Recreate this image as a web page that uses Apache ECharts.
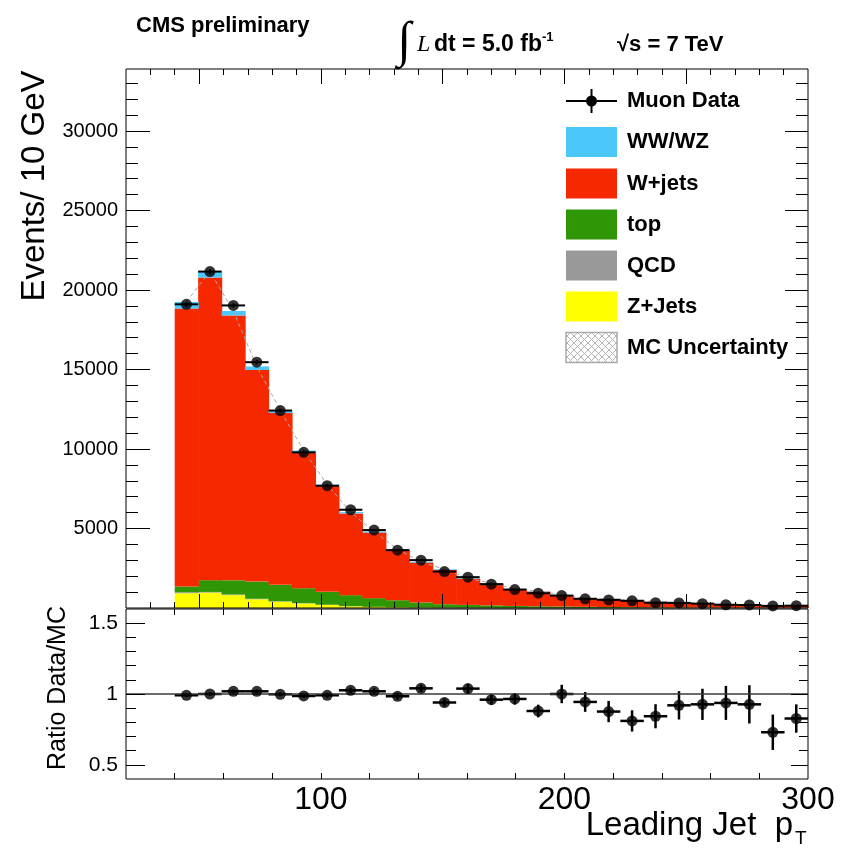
<!DOCTYPE html>
<html>
<head>
<meta charset="utf-8">
<script src="https://cdn.jsdelivr.net/npm/echarts@6/dist/echarts.min.js"></script>
<style>
  html, body { margin: 0; padding: 0; background: #ffffff; }
  #chart { width: 841px; height: 848px; }
</style>
</head>
<body>
<div id="chart"></div>
<script>
// Leading jet pT binning (GeV): 27 uniform bins between 40 and 300
const binEdges = [40, 49.63, 59.26, 68.89, 78.52, 88.15, 97.78, 107.41, 117.04, 126.67,
  136.30, 145.93, 155.56, 165.19, 174.81, 184.44, 194.07, 203.70, 213.33, 222.96,
  232.59, 242.22, 251.85, 261.48, 271.11, 280.74, 290.37, 300];

// Observed muon-channel events per bin
const muonData = [19100, 21160, 19030, 15460, 12420, 9790, 7690, 6180, 4900, 3640,
  3010, 2290, 1940, 1500, 1160, 930, 780, 580, 510, 450, 330, 320, 275, 205, 190, 130, 145];

// Simulated backgrounds per bin (stacked bottom to top: Z+Jets, QCD, top, W+jets, WW/WZ)
const zJets   = [930, 970, 810, 550, 400, 290, 195, 110, 70, 45, 30, 22, 16, 12, 9, 7, 5, 4, 3, 3, 2, 2, 1, 1, 1, 1, 1];
const qcd     = [60, 40, 40, 30, 20, 15, 10, 8, 5, 4, 3, 2, 2, 1, 1, 1, 1, 1, 0, 0, 0, 0, 0, 0, 0, 0, 0];
const topBkg  = [360, 740, 890, 1080, 1035, 940, 810, 690, 545, 440, 310, 215, 177, 150, 120, 100, 85, 70, 60, 50, 40, 35, 30, 25, 20, 18, 15];
const wJets   = [17480, 19030, 16660, 13310, 10815, 8525, 6645, 5142, 4125, 3156, 2512, 2151, 1643, 1370, 1048, 924, 684, 533, 507, 458, 350, 306, 263, 199, 185, 147, 151];
const diboson = [420, 390, 280, 220, 170, 130, 100, 80, 65, 55, 45, 40, 32, 27, 22, 18, 15, 12, 10, 9, 8, 7, 6, 5, 4, 4, 3];

// Data / MC ratio and its uncertainty per bin
const ratio    = [0.991, 1.0, 1.019, 1.019, 0.998, 0.986, 0.991, 1.026, 1.019, 0.984,
  1.04, 0.94, 1.038, 0.96, 0.965, 0.88, 1.0, 0.944, 0.876, 0.81, 0.843, 0.92, 0.927, 0.937, 0.927, 0.73, 0.827];
const ratioErr = [0.012, 0.012, 0.012, 0.013, 0.014, 0.015, 0.017, 0.019, 0.021, 0.024,
  0.026, 0.028, 0.032, 0.035, 0.04, 0.045, 0.065, 0.07, 0.075, 0.075, 0.085, 0.1, 0.11, 0.12, 0.135, 0.125, 0.1];

// Axis tick positions and labels
const xMinorTop   = [30, 40, 60, 70, 80, 90, 110, 120, 130, 140, 160, 170, 180, 190, 210, 220, 230, 240, 260, 270, 280, 290];
const xMajorTop   = [50, 100, 150, 200, 250];
const xTicksRatio = [40, 60, 80, 100, 120, 140, 160, 180, 200, 220, 240, 260, 280];
const xLabels     = [100, 200, 300];
const yMinorTop   = [1000, 2000, 3000, 4000, 6000, 7000, 8000, 9000, 11000, 12000, 13000, 14000,
  16000, 17000, 18000, 19000, 21000, 22000, 23000, 24000, 26000, 27000, 28000, 29000, 31000, 32000, 33000];
const yMajorTop   = [5000, 10000, 15000, 20000, 25000, 30000];
const yMinorRatio = [0.6, 0.7, 0.8, 0.9, 1.1, 1.2, 1.3, 1.4];
const yMajorRatio = [0.5, 1, 1.5];

const FONT = 'Liberation Sans, Arial, Helvetica, sans-serif';
const nBins = binEdges.length - 1;
const centers = binEdges.slice(0, -1).map((lo, i) => (lo + binEdges[i + 1]) / 2);

// Bar-segment renderer: item = [lo, hi, base, top]
function barRenderer(color) {
  return function (params, api) {
    const a = api.coord([api.value(0), api.value(3)]);
    const b = api.coord([api.value(1), api.value(2)]);
    return {
      type: 'rect',
      shape: { x: a[0], y: a[1], width: b[0] - a[0] + 0.6, height: b[1] - a[1] },
      style: { fill: color }
    };
  };
}

// Error-bar renderer: item = [lo, hi, value, err]
function errRenderer(lw) {
  return function (params, api) {
    const lo = api.value(0), hi = api.value(1), y = api.value(2), e = api.value(3);
    const l = api.coord([lo, y]), r = api.coord([hi, y]);
    const cx = (l[0] + r[0]) / 2;
    const t = api.coord([lo, y + e])[1], b = api.coord([lo, y - e])[1];
    return {
      type: 'group',
      children: [
        { type: 'line', shape: { x1: l[0], y1: l[1], x2: r[0], y2: r[1] }, style: { stroke: '#000', lineWidth: lw } },
        { type: 'line', shape: { x1: cx, y1: t, x2: cx, y2: b }, style: { stroke: '#000', lineWidth: lw } }
      ]
    };
  };
}

const stackDefs = [
  { name: 'Z+Jets', values: zJets,   color: '#ffff00' },
  { name: 'QCD',    values: qcd,     color: '#999999' },
  { name: 'top',    values: topBkg,  color: '#2f9606' },
  { name: 'W+jets', values: wJets,   color: '#f52800' },
  { name: 'WW/WZ',  values: diboson, color: '#4cc7fb' }
];

const running = new Array(nBins).fill(0);
const stackSeries = stackDefs.map(s => {
  const rows = s.values.map((v, i) => {
    const row = [binEdges[i], binEdges[i + 1], running[i], running[i] + v];
    running[i] += v;
    return row;
  });
  return {
    name: s.name, type: 'custom', xAxisIndex: 0, yAxisIndex: 0, silent: true, z: 2,
    renderItem: barRenderer(s.color), encode: { x: [0, 1], y: [2, 3] }, data: rows
  };
});
const mcTotal = running.slice();

function tickAxis(gridIndex, position, min, max, ticks, len, extra) {
  return Object.assign({
    type: 'value', gridIndex: gridIndex, position: position, min: min, max: max, z: 6,
    axisLine: { show: false, onZero: false },
    axisTick: { show: true, inside: true, length: len, customValues: ticks, lineStyle: { color: '#000', width: 1 } },
    axisLabel: { show: false },
    splitLine: { show: false }
  }, extra || {});
}

// Cross-hatch pattern for the MC uncertainty legend swatch
const hatch = document.createElement('canvas');
hatch.width = 7; hatch.height = 7;
(function () {
  const c = hatch.getContext('2d');
  c.fillStyle = '#ffffff'; c.fillRect(0, 0, 7, 7);
  c.strokeStyle = '#b5b5b5'; c.lineWidth = 1;
  c.beginPath(); c.moveTo(0, 0); c.lineTo(7, 7); c.moveTo(7, 0); c.lineTo(0, 7); c.stroke();
})();

const legendRows = [
  { label: 'WW/WZ', fill: '#4cc7fb', y: 142 },
  { label: 'W+jets', fill: '#f52800', y: 183.5 },
  { label: 'top', fill: '#2f9606', y: 224.5 },
  { label: 'QCD', fill: '#999999', y: 265.5 },
  { label: 'Z+Jets', fill: '#ffff00', y: 306.5 },
  { label: 'MC Uncertainty', fill: { image: hatch, repeat: 'repeat' }, y: 347.5, stroke: '#aaaaaa' }
];

const graphics = [
  { type: 'text', x: 136, y: 26, style: { text: 'CMS preliminary', fontFamily: FONT, fontWeight: 'bold', fontSize: 22, fill: '#000', verticalAlign: 'middle' } },
  { type: 'text', x: 404, y: 43, style: { text: '\u222B', fontFamily: 'Liberation Serif, DejaVu Serif, serif', fontSize: 50, fill: '#000', align: 'center', verticalAlign: 'middle' } },
  { type: 'text', x: 417, y: 45, style: { text: 'L', fontFamily: 'Liberation Serif, serif', fontStyle: 'italic', fontSize: 24, fill: '#000', verticalAlign: 'middle' } },
  { type: 'text', x: 434, y: 45, style: { text: 'dt = 5.0 fb', fontFamily: FONT, fontWeight: 'bold', fontSize: 23, fill: '#000', verticalAlign: 'middle' } },
  { type: 'text', x: 542, y: 37, style: { text: '-1', fontFamily: FONT, fontWeight: 'bold', fontSize: 13, fill: '#000', verticalAlign: 'middle' } },
  { type: 'text', x: 617, y: 45, style: { text: '\u221As = 7 TeV', fontFamily: FONT, fontWeight: 'bold', fontSize: 22, fill: '#000', verticalAlign: 'middle' } },
  { type: 'text', x: 35, y: 186, rotation: Math.PI / 2, style: { text: 'Events/ 10 GeV', fontFamily: FONT, fontSize: 33, fill: '#000', align: 'center', verticalAlign: 'middle' } },
  { type: 'text', x: 58, y: 688, rotation: Math.PI / 2, style: { text: 'Ratio Data/MC', fontFamily: FONT, fontSize: 25, fill: '#000', align: 'center', verticalAlign: 'middle' } },
  { type: 'text', x: 793, y: 826, style: { text: 'Leading Jet  p', fontFamily: FONT, fontSize: 33, fill: '#000', align: 'right', verticalAlign: 'middle' } },
  { type: 'text', x: 795, y: 839, style: { text: 'T', fontFamily: FONT, fontSize: 19, fill: '#000', verticalAlign: 'middle' } },
  // legend: data marker
  { type: 'line', shape: { x1: 566, y1: 101, x2: 617, y2: 101 }, style: { stroke: '#000', lineWidth: 2 } },
  { type: 'line', shape: { x1: 591.5, y1: 89, x2: 591.5, y2: 113 }, style: { stroke: '#000', lineWidth: 2 } },
  { type: 'circle', shape: { cx: 591.5, cy: 101, r: 5.5 }, style: { fill: '#000' } },
  { type: 'text', x: 627, y: 101, style: { text: 'Muon Data', fontFamily: FONT, fontWeight: 'bold', fontSize: 22, fill: '#000', verticalAlign: 'middle' } }
];
legendRows.forEach(r => {
  graphics.push({ type: 'rect', shape: { x: 566, y: r.y - 15, width: 51, height: 30 },
    style: { fill: r.fill, stroke: r.stroke || null, lineWidth: r.stroke ? 1.5 : 0 } });
  graphics.push({ type: 'text', x: 627, y: r.y, style: { text: r.label, fontFamily: FONT, fontWeight: 'bold', fontSize: 22, fill: '#000', verticalAlign: 'middle' } });
});

const X0 = 20, X1 = 300, Y0 = 0, Y1 = 33900, R0 = 0.4, R1 = 1.6;

const option = {
  animation: false,
  backgroundColor: '#ffffff',
  grid: [
    { left: 126, top: 69, width: 682, height: 539, show: true, borderColor: '#000', borderWidth: 1, backgroundColor: 'transparent', z: 7 },
    { left: 126, top: 609, width: 682, height: 170, show: true, borderColor: '#000', borderWidth: 1, backgroundColor: 'transparent', z: 7 }
  ],
  xAxis: [
    tickAxis(0, 'bottom', X0, X1, xMinorTop, 6),
    tickAxis(0, 'bottom', X0, X1, xMajorTop, 14),
    tickAxis(0, 'top', X0, X1, xMinorTop, 6),
    tickAxis(0, 'top', X0, X1, xMajorTop, 15),
    tickAxis(1, 'bottom', X0, X1, xTicksRatio, 6, {
      axisLabel: { show: true, customValues: xLabels, fontFamily: FONT, fontSize: 32, color: '#000', margin: 5,
        formatter: v => String(v) }
    }),
    tickAxis(1, 'top', X0, X1, xTicksRatio, 6)
  ],
  yAxis: [
    tickAxis(0, 'left', Y0, Y1, yMinorTop, 12),
    tickAxis(0, 'left', Y0, Y1, yMajorTop, 24, {
      axisLabel: { show: true, customValues: yMajorTop, fontFamily: FONT, fontSize: 20, color: '#000', margin: 8,
        formatter: v => String(v) }
    }),
    tickAxis(0, 'right', Y0, Y1, yMinorTop, 12),
    tickAxis(0, 'right', Y0, Y1, yMajorTop, 23),
    tickAxis(1, 'left', R0, R1, yMinorRatio, 10),
    tickAxis(1, 'left', R0, R1, yMajorRatio, 19, {
      axisLabel: { show: true, customValues: yMajorRatio, fontFamily: FONT, fontSize: 21, color: '#000', margin: 8,
        formatter: v => String(v) }
    }),
    tickAxis(1, 'right', R0, R1, yMinorRatio, 9),
    tickAxis(1, 'right', R0, R1, yMajorRatio, 17)
  ],
  graphic: graphics,
  series: stackSeries.concat([
    {
      name: 'MC Uncertainty', type: 'line', xAxisIndex: 0, yAxisIndex: 0, silent: true, z: 3,
      symbol: 'none', lineStyle: { color: '#a8a8a8', width: 1, type: [4, 3] },
      data: centers.map((c, i) => [c, mcTotal[i]])
    },
    {
      name: 'Muon Data bars', type: 'custom', xAxisIndex: 0, yAxisIndex: 0, silent: true, z: 4,
      renderItem: errRenderer(2), encode: { x: [0, 1], y: 2 },
      data: muonData.map((v, i) => [binEdges[i], binEdges[i + 1], v, Math.sqrt(v)])
    },
    {
      name: 'Muon Data', type: 'scatter', xAxisIndex: 0, yAxisIndex: 0, silent: true, z: 5,
      symbol: 'circle', symbolSize: 11, itemStyle: { color: '#000' },
      data: centers.map((c, i) => [c, muonData[i]])
    },
    {
      name: 'Ratio bars', type: 'custom', xAxisIndex: 4, yAxisIndex: 4, silent: true, z: 4,
      renderItem: errRenderer(2.5), encode: { x: [0, 1], y: 2 },
      data: ratio.map((v, i) => [binEdges[i], binEdges[i + 1], v, ratioErr[i]])
    },
    {
      name: 'Ratio', type: 'scatter', xAxisIndex: 4, yAxisIndex: 4, silent: true, z: 5,
      symbol: 'circle', symbolSize: 11, itemStyle: { color: '#000' },
      data: centers.map((c, i) => [c, ratio[i]]),
      markLine: {
        silent: true, symbol: 'none', label: { show: false },
        lineStyle: { color: '#3a3a3a', width: 1.5, type: 'solid' },
        data: [{ yAxis: 1 }]
      }
    }
  ])
};

const chart = echarts.init(document.getElementById('chart'), null, { renderer: 'canvas' });
chart.setOption(option);
</script>
</body>
</html>
